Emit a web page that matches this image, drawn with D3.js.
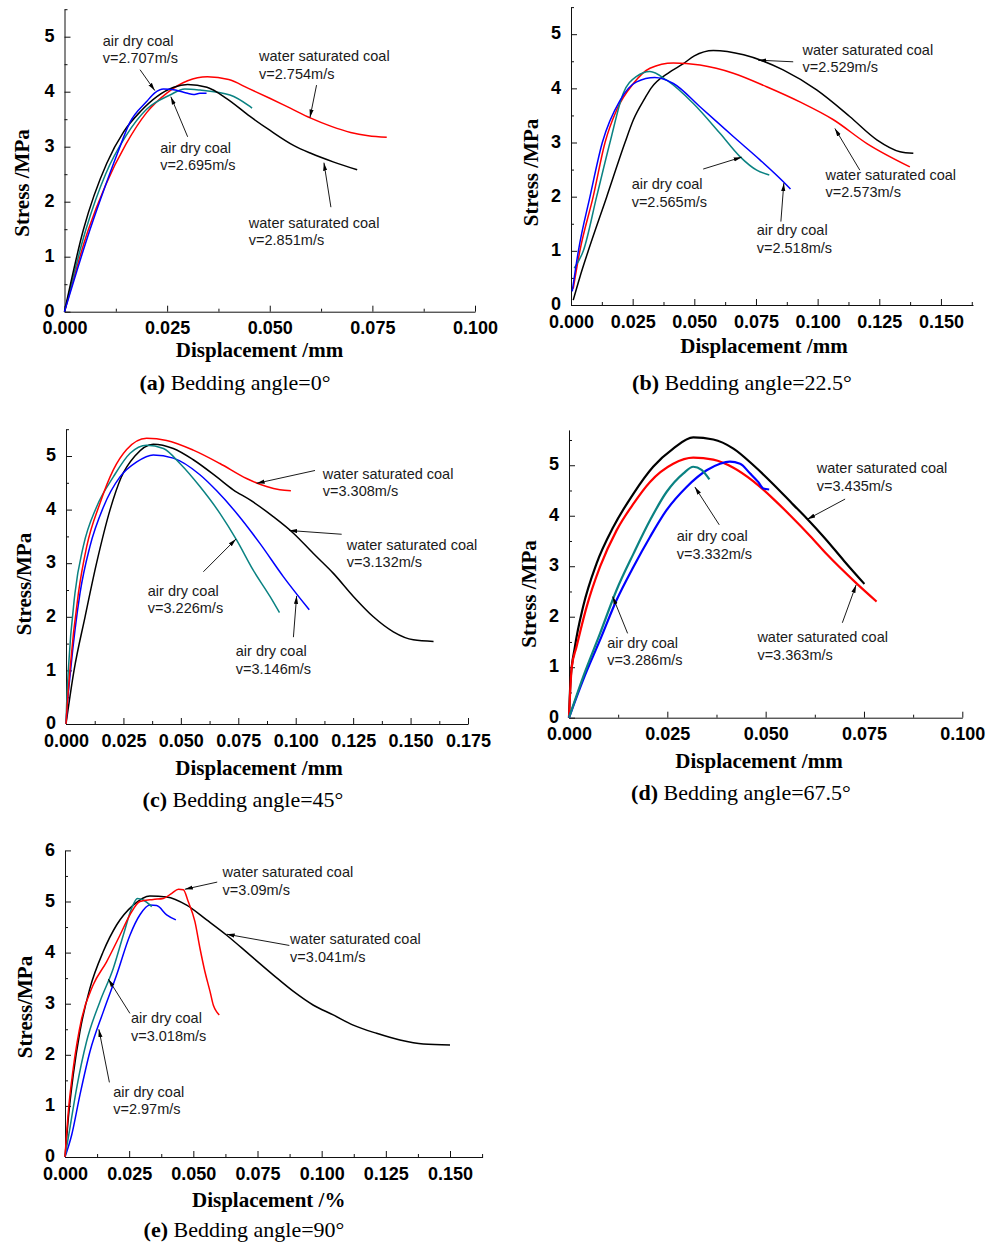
<!DOCTYPE html>
<html>
<head>
<meta charset="utf-8">
<script src="https://cdn.jsdelivr.net/npm/d3@7"></script>
<style>
  body { margin: 0; background: #fff; }
  svg { display: block; }
</style>
</head>
<body>
<svg id="chart"></svg>
<script>
// tick values
var xTicks100 = [0, 0.025, 0.05, 0.075, 0.1]
var xTicks150 = [0, 0.025, 0.05, 0.075, 0.1, 0.125, 0.15]
var xTicks175 = [0, 0.025, 0.05, 0.075, 0.1, 0.125, 0.15, 0.175]
var yTicks5 = [0, 1, 2, 3, 4, 5]
var yTicks6 = [0, 1, 2, 3, 4, 5, 6]

// (a) bedding angle 0
var aWater2851 = [[0,0],[0.0046,1.49],[0.0103,2.7],[0.0144,3.27],[0.0185,3.64],[0.0225,3.91],[0.0266,4.08],[0.0300,4.13],[0.0347,4.08],[0.0396,3.87],[0.0452,3.55],[0.05,3.3],[0.0559,3.02],[0.06,2.88],[0.0656,2.72],[0.0713,2.58]]
var aWater2754 = [[0,0],[0.0058,1.49],[0.01,2.3],[0.015,3.05],[0.02,3.62],[0.025,3.98],[0.03,4.2],[0.0348,4.27],[0.04,4.22],[0.0448,4.06],[0.05,3.88],[0.055,3.7],[0.06,3.52],[0.065,3.37],[0.0697,3.26],[0.074,3.2],[0.0785,3.17]]
var aAir2707 = [[0,0],[0.0062,1.49],[0.01,2.3],[0.013,2.9],[0.016,3.45],[0.02,3.82],[0.022,3.98],[0.0241,4.05],[0.027,4.03],[0.03,3.97],[0.0314,3.95],[0.033,3.97],[0.0346,3.97]]
var aAir2695 = [[0,0],[0.0052,1.49],[0.01,2.5],[0.015,3.2],[0.02,3.68],[0.0257,3.94],[0.0293,4.05],[0.033,4.03],[0.0403,3.94],[0.0448,3.75],[0.0457,3.70]]

// (b) bedding angle 22.5
var bWater2529 = [[0.0009,0.09],[0.0035,0.5],[0.007,1.0],[0.0145,2.0],[0.0219,3.0],[0.0253,3.42],[0.03,3.82],[0.0324,4.0],[0.04,4.3],[0.0454,4.45],[0.05,4.6],[0.0577,4.70],[0.07,4.62],[0.086,4.34],[0.0996,3.97],[0.113,3.48],[0.124,3.05],[0.1334,2.83],[0.1388,2.8]]
var bWater2573 = [[0.0009,0.3],[0.0036,1.0],[0.009,2.0],[0.0138,3.0],[0.0185,3.6],[0.0253,4.09],[0.032,4.37],[0.0415,4.47],[0.0523,4.43],[0.0658,4.28],[0.0793,4.03],[0.0928,3.75],[0.1064,3.42],[0.12,2.98],[0.1374,2.55]]
var bAir2518 = [[0.0005,0.25],[0.003,1.0],[0.0077,2.0],[0.0127,3.0],[0.0199,3.78],[0.0266,4.12],[0.034,4.2],[0.0415,4.09],[0.0523,3.66],[0.0658,3.11],[0.0766,2.68],[0.086,2.28],[0.089,2.14]]
var bAir2565 = [[0.0013,0.68],[0.005,1.0],[0.0104,2.0],[0.0158,3.0],[0.0212,3.91],[0.0266,4.22],[0.032,4.31],[0.0388,4.15],[0.0496,3.72],[0.0604,3.17],[0.0685,2.74],[0.0753,2.49],[0.0804,2.4]]

// (c) bedding angle 45
var cWater3308 = [[0,0],[0.0003,0.2],[0.0017,1.0],[0.0054,2.44],[0.009,3.31],[0.0148,4.12],[0.0206,4.74],[0.0264,5.12],[0.0351,5.33],[0.0438,5.29],[0.0554,5.11],[0.067,4.86],[0.0786,4.58],[0.0873,4.43],[0.0931,4.37],[0.0979,4.35]]
var cAir3226 = [[0,0],[0.0003,0.39],[0.001,1.0],[0.0039,2.44],[0.0075,3.31],[0.0133,4.05],[0.0206,4.61],[0.0279,5.05],[0.0351,5.2],[0.0424,5.14],[0.0496,4.86],[0.0583,4.43],[0.067,3.93],[0.0743,3.43],[0.0815,2.87],[0.0888,2.38],[0.0929,2.08]]
var cAir3146 = [[0,0],[0.0003,0.2],[0.002,1.0],[0.0061,2.44],[0.0104,3.31],[0.0163,4.05],[0.0235,4.61],[0.0308,4.89],[0.038,5.02],[0.0467,4.96],[0.0583,4.65],[0.0656,4.35],[0.0749,3.9],[0.0844,3.37],[0.0946,2.75],[0.1059,2.13]]
var cWater3132 = [[0,0],[0.0035,1.0],[0.0083,2.0],[0.0133,3.0],[0.0192,4.0],[0.024,4.6],[0.030,5.0],[0.038,5.22],[0.0467,5.14],[0.0554,4.93],[0.0656,4.61],[0.0728,4.37],[0.0801,4.18],[0.0902,3.87],[0.099,3.56],[0.1077,3.18],[0.1164,2.81],[0.1251,2.38],[0.1338,2.0],[0.1425,1.72],[0.1512,1.57],[0.16,1.54]]

// (d) bedding angle 67.5
var dWater3435 = [[0,0],[0.0004,0.75],[0.0015,1.4],[0.0036,2.2],[0.007,3.05],[0.0113,3.78],[0.0164,4.44],[0.0214,4.97],[0.0265,5.33],[0.0316,5.55],[0.0367,5.51],[0.0418,5.33],[0.0469,5.0],[0.052,4.62],[0.057,4.22],[0.0604,3.95],[0.065,3.56],[0.07,3.1],[0.0751,2.65]]
var dWater3363 = [[0,0],[0.0007,1.0],[0.0019,1.4],[0.0045,2.2],[0.0079,2.99],[0.0121,3.71],[0.0164,4.24],[0.0206,4.67],[0.0265,5.03],[0.0316,5.15],[0.0367,5.11],[0.0418,4.95],[0.0469,4.68],[0.052,4.33],[0.0562,4.01],[0.0613,3.6],[0.0655,3.24],[0.0731,2.66],[0.0782,2.3]]
var dAir3332 = [[0,0],[0.0036,0.81],[0.0079,1.67],[0.0121,2.53],[0.0164,3.25],[0.0206,3.91],[0.0248,4.47],[0.0291,4.84],[0.0316,4.97],[0.0337,4.91],[0.0357,4.72]]
var dAir3286 = [[0,0],[0.0036,0.75],[0.0079,1.54],[0.0121,2.33],[0.0164,2.99],[0.0206,3.58],[0.0248,4.11],[0.0299,4.57],[0.035,4.9],[0.0384,5.03],[0.0409,5.07],[0.0435,5.03],[0.046,4.84],[0.0481,4.67],[0.0494,4.54],[0.0509,4.52]]

// (e) bedding angle 90
var eWater3041 = [[0,0],[0.0013,0.76],[0.0032,1.6],[0.0058,2.45],[0.0097,3.3],[0.0149,4.02],[0.0201,4.54],[0.0266,4.93],[0.0331,5.11],[0.0396,5.09],[0.0474,4.93],[0.0552,4.64],[0.063,4.34],[0.0721,3.95],[0.0812,3.56],[0.089,3.24],[0.0968,2.97],[0.1045,2.78],[0.1123,2.58],[0.1214,2.42],[0.1305,2.29],[0.1396,2.21],[0.15,2.19]]
var eWater309 = [[0,0],[0.0013,0.89],[0.0032,1.73],[0.0065,2.71],[0.011,3.37],[0.0162,3.82],[0.0214,4.34],[0.0253,4.74],[0.0292,5.0],[0.0344,5.04],[0.0383,5.06],[0.0416,5.16],[0.0442,5.24],[0.0461,5.23],[0.048,5.0],[0.0506,4.61],[0.0526,4.08],[0.0545,3.63],[0.0565,3.24],[0.0578,2.97],[0.0591,2.84],[0.0601,2.78]]
var eAir3018 = [[0,0],[0.0019,0.56],[0.0045,1.34],[0.0084,2.26],[0.0136,3.04],[0.0188,3.69],[0.0227,4.34],[0.026,4.87],[0.0282,5.06],[0.0305,5.03],[0.0338,4.9]]
var eAir297 = [[0,0],[0.0026,0.43],[0.0058,1.21],[0.0097,2.06],[0.0149,2.84],[0.0201,3.56],[0.0253,4.34],[0.0292,4.74],[0.0331,4.93],[0.0357,4.92],[0.0396,4.74],[0.0432,4.64]]

var colors = { black: "#000000", red: "#ff0000", blue: "#0000ff", teal: "#0a8282" }

var panels = [
  {
    tag: "(a)", caption: " Bedding angle=0°", xTitle: "Displacement /mm", yTitle: "Stress /MPa",
    left: 64.5, right: 475, bottom: 311.7, top: 9.2, xMax: 0.1, yMax: 5.5,
    xTicks: xTicks100, yTicks: yTicks5, lw: 1.5,
    series: [[aWater2754, "red"], [aAir2695, "teal"], [aWater2851, "black"], [aAir2707, "blue"]],
    xTitlePos: [259.5, 356.7], yTitlePos: [29, 183], capPos: [235, 390],
    notes: [
      { lines: ["air dry coal", "v=2.707m/s"], at: [0.0093, 4.84], from: [0.0184, 4.40], to: [0.0220, 4.02] },
      { lines: ["water saturated coal", "v=2.754m/s"], at: [0.0474, 4.56], from: [0.0614, 4.12], to: [0.0598, 3.53] },
      { lines: ["air dry coal", "v=2.695m/s"], at: [0.0233, 2.89], from: [0.0300, 3.18], to: [0.0259, 3.91] },
      { lines: ["water saturated coal", "v=2.851m/s"], at: [0.0449, 1.53], from: [0.0649, 1.90], to: [0.0632, 2.71] }
    ]
  },
  {
    tag: "(b)", caption: " Bedding angle=22.5°", xTitle: "Displacement /mm", yTitle: "Stress /MPa",
    left: 571, right: 973, bottom: 305, top: 7.1, xMax: 0.163, yMax: 5.5,
    xTicks: xTicks150, yTicks: yTicks5, lw: 1.5,
    series: [[bWater2529, "black"], [bWater2573, "red"], [bAir2565, "teal"], [bAir2518, "blue"]],
    xTitlePos: [764, 353.3], yTitlePos: [538, 172.5], capPos: [742, 390],
    notes: [
      { lines: ["water saturated coal", "v=2.529m/s"], at: [0.0939, 4.62], from: [0.0901, 4.49], to: [0.0759, 4.52] },
      { lines: ["water saturated coal", "v=2.573m/s"], at: [0.1032, 2.31], from: [0.1171, 2.49], to: [0.1070, 3.26] },
      { lines: ["air dry coal", "v=2.565m/s"], at: [0.0246, 2.14], from: [0.0536, 2.51], to: [0.0692, 2.73] },
      { lines: ["air dry coal", "v=2.518m/s"], at: [0.0753, 1.29], from: [0.0851, 1.54], to: [0.0863, 2.25] }
    ]
  },
  {
    tag: "(c)", caption: " Bedding angle=45°", xTitle: "Displacement /mm", yTitle: "Stress/MPa",
    left: 66, right: 468, bottom: 724, top: 429.2, xMax: 0.175, yMax: 5.5,
    xTicks: xTicks175, yTicks: yTicks5, lw: 1.5,
    series: [[cWater3132, "black"], [cAir3146, "blue"], [cAir3226, "teal"], [cWater3308, "red"]],
    xTitlePos: [259, 775], yTitlePos: [31, 584], capPos: [243, 806.7],
    notes: [
      { lines: ["water saturated coal", "v=3.308m/s"], at: [0.1118, 4.58], from: [0.1084, 4.73], to: [0.0830, 4.49] },
      { lines: ["water saturated coal", "v=3.132m/s"], at: [0.1222, 3.25], from: [0.1200, 3.54], to: [0.0972, 3.61] },
      { lines: ["air dry coal", "v=3.226m/s"], at: [0.0356, 2.39], from: [0.0598, 2.84], to: [0.0740, 3.45] },
      { lines: ["air dry coal", "v=3.146m/s"], at: [0.0739, 1.26], from: [0.0990, 1.62], to: [0.1004, 2.39] }
    ]
  },
  {
    tag: "(d)", caption: " Bedding angle=67.5°", xTitle: "Displacement /mm", yTitle: "Stress /MPa",
    left: 569, right: 962.3, bottom: 717.7, top: 429.9, xMax: 0.1, yMax: 5.7,
    xTicks: xTicks100, yTicks: yTicks5, lw: 2.2,
    series: [[dWater3435, "black"], [dWater3363, "red"], [dAir3286, "blue"], [dAir3332, "teal"]],
    xTitlePos: [759, 768.3], yTitlePos: [536, 594], capPos: [741, 800],
    notes: [
      { lines: ["water saturated coal", "v=3.435m/s"], at: [0.0630, 4.84], from: [0.0702, 4.33], to: [0.0606, 3.93] },
      { lines: ["air dry coal", "v=3.332m/s"], at: [0.0274, 3.49], from: [0.0382, 3.82], to: [0.0320, 4.57] },
      { lines: ["air dry coal", "v=3.286m/s"], at: [0.0097, 1.39], from: [0.0149, 1.67], to: [0.0111, 2.40] },
      { lines: ["water saturated coal", "v=3.363m/s"], at: [0.0479, 1.50], from: [0.0695, 1.88], to: [0.0730, 2.63] }
    ]
  },
  {
    tag: "(e)", caption: " Bedding angle=90°", xTitle: "Displacement /%", yTitle: "Stress/MPa",
    left: 65, right: 482.6, bottom: 1157, top: 850.4, xMax: 0.1627, yMax: 6,
    xTicks: xTicks150, yTicks: yTicks6, lw: 1.5,
    series: [[eWater3041, "black"], [eAir297, "blue"], [eAir3018, "teal"], [eWater309, "red"]],
    xTitlePos: [268.7, 1206.7], yTitlePos: [32, 1007], capPos: [244, 1236.7],
    notes: [
      { lines: ["water saturated coal", "v=3.09m/s"], at: [0.0614, 5.47], from: [0.0593, 5.38], to: [0.0467, 5.24] },
      { lines: ["water saturated coal", "v=3.041m/s"], at: [0.0877, 4.17], from: [0.0874, 4.14], to: [0.0630, 4.36] },
      { lines: ["air dry coal", "v=3.018m/s"], at: [0.0257, 2.62], from: [0.0253, 2.81], to: [0.0169, 3.48] },
      { lines: ["air dry coal", "v=2.97m/s"], at: [0.0188, 1.18], from: [0.0173, 1.46], to: [0.0132, 2.50] }
    ]
  }
]

var svg = d3.select("#chart")
  .attr("width", 998)
  .attr("height", 1243)
  .style("background", "#fff")

svg.append("defs").append("marker")
  .attr("id", "head")
  .attr("viewBox", "0 0 10 6")
  .attr("refX", 10)
  .attr("refY", 3)
  .attr("markerWidth", 8)
  .attr("markerHeight", 4.8)
  .attr("markerUnits", "userSpaceOnUse")
  .attr("orient", "auto")
  .append("path")
  .attr("d", "M0,0.4L10,3L0,5.6Z")
  .attr("fill", "#000")

var sans = "'Liberation Sans', Arial, Helvetica, sans-serif"
var serif = "'Liberation Serif', 'Times New Roman', Times, serif"

panels.forEach(function (p) {
  var xScale = d3.scaleLinear().domain([0, p.xMax]).range([p.left, p.right])
  var yScale = d3.scaleLinear().domain([0, p.yMax]).range([p.bottom, p.top])
  var g = svg.append("g")

  // minor ticks (half steps)
  var xMinor = d3.range(0.0125, p.xMax + 1e-9, 0.025)
  var yMinor = d3.range(0.5, p.yMax + 1e-9, 1)
  g.append("g")
    .attr("transform", `translate(0,${p.bottom})`)
    .call(d3.axisBottom(xScale).tickValues(xMinor).tickSize(-3).tickSizeOuter(0).tickFormat(""))
    .call(s => s.select(".domain").remove())
  g.append("g")
    .attr("transform", `translate(${p.left},0)`)
    .call(d3.axisLeft(yScale).tickValues(yMinor).tickSize(-3).tickSizeOuter(0).tickFormat(""))
    .call(s => s.select(".domain").remove())

  var xAxis = g.append("g")
    .attr("transform", `translate(0,${p.bottom})`)
    .call(d3.axisBottom(xScale).tickValues(p.xTicks).tickSize(-6).tickSizeOuter(0).tickPadding(10).tickFormat(d3.format(".3f")))
  var yAxis = g.append("g")
    .attr("transform", `translate(${p.left},0)`)
    .call(d3.axisLeft(yScale).tickValues(p.yTicks).tickSize(-6).tickSizeOuter(0).tickPadding(10).tickFormat(d3.format("d")))
  yAxis.selectAll(".tick text").attr("dy", "0.26em")
  g.selectAll(".tick text")
    .attr("font-family", sans)
    .attr("font-weight", "bold")
    .attr("font-size", 18)
    .attr("fill", "#000")
  g.selectAll(".domain, .tick line").attr("stroke", "#111").attr("stroke-width", 1)

  var line = d3.line()
    .x(d => xScale(d[0]))
    .y(d => yScale(d[1]))
    .curve(d3.curveMonotoneX)

  p.series.forEach(function (s) {
    g.append("path")
      .datum(s[0])
      .attr("d", line)
      .attr("fill", "none")
      .attr("stroke", colors[s[1]])
      .attr("stroke-width", p.lw)
      .attr("stroke-linejoin", "round")
  })

  p.notes.forEach(function (n) {
    g.append("line")
      .attr("x1", xScale(n.from[0]))
      .attr("y1", yScale(n.from[1]))
      .attr("x2", xScale(n.to[0]))
      .attr("y2", yScale(n.to[1]))
      .attr("stroke", "#000")
      .attr("stroke-width", 0.9)
      .attr("marker-end", "url(#head)")
    var t = g.append("text")
      .attr("x", xScale(n.at[0]))
      .attr("y", yScale(n.at[1]))
      .attr("font-family", sans)
      .attr("font-size", 14.5)
      .attr("fill", "#1a1a1a")
    n.lines.forEach(function (l, i) {
      t.append("tspan")
        .attr("x", xScale(n.at[0]))
        .attr("dy", i == 0 ? 0 : 17.6)
        .text(l)
    })
  })

  g.append("text")
    .attr("x", p.xTitlePos[0])
    .attr("y", p.xTitlePos[1])
    .attr("text-anchor", "middle")
    .attr("font-family", serif)
    .attr("font-weight", "bold")
    .attr("font-size", 21)
    .text(p.xTitle)

  g.append("text")
    .attr("transform", `translate(${p.yTitlePos[0]},${p.yTitlePos[1]}) rotate(-90)`)
    .attr("text-anchor", "middle")
    .attr("font-family", serif)
    .attr("font-weight", "bold")
    .attr("font-size", 21)
    .text(p.yTitle)

  var cap = g.append("text")
    .attr("x", p.capPos[0])
    .attr("y", p.capPos[1])
    .attr("text-anchor", "middle")
    .attr("font-family", serif)
    .attr("font-size", 22)
  cap.append("tspan").attr("font-weight", "bold").text(p.tag)
  cap.append("tspan").text(p.caption)
})
</script>
</body>
</html>
